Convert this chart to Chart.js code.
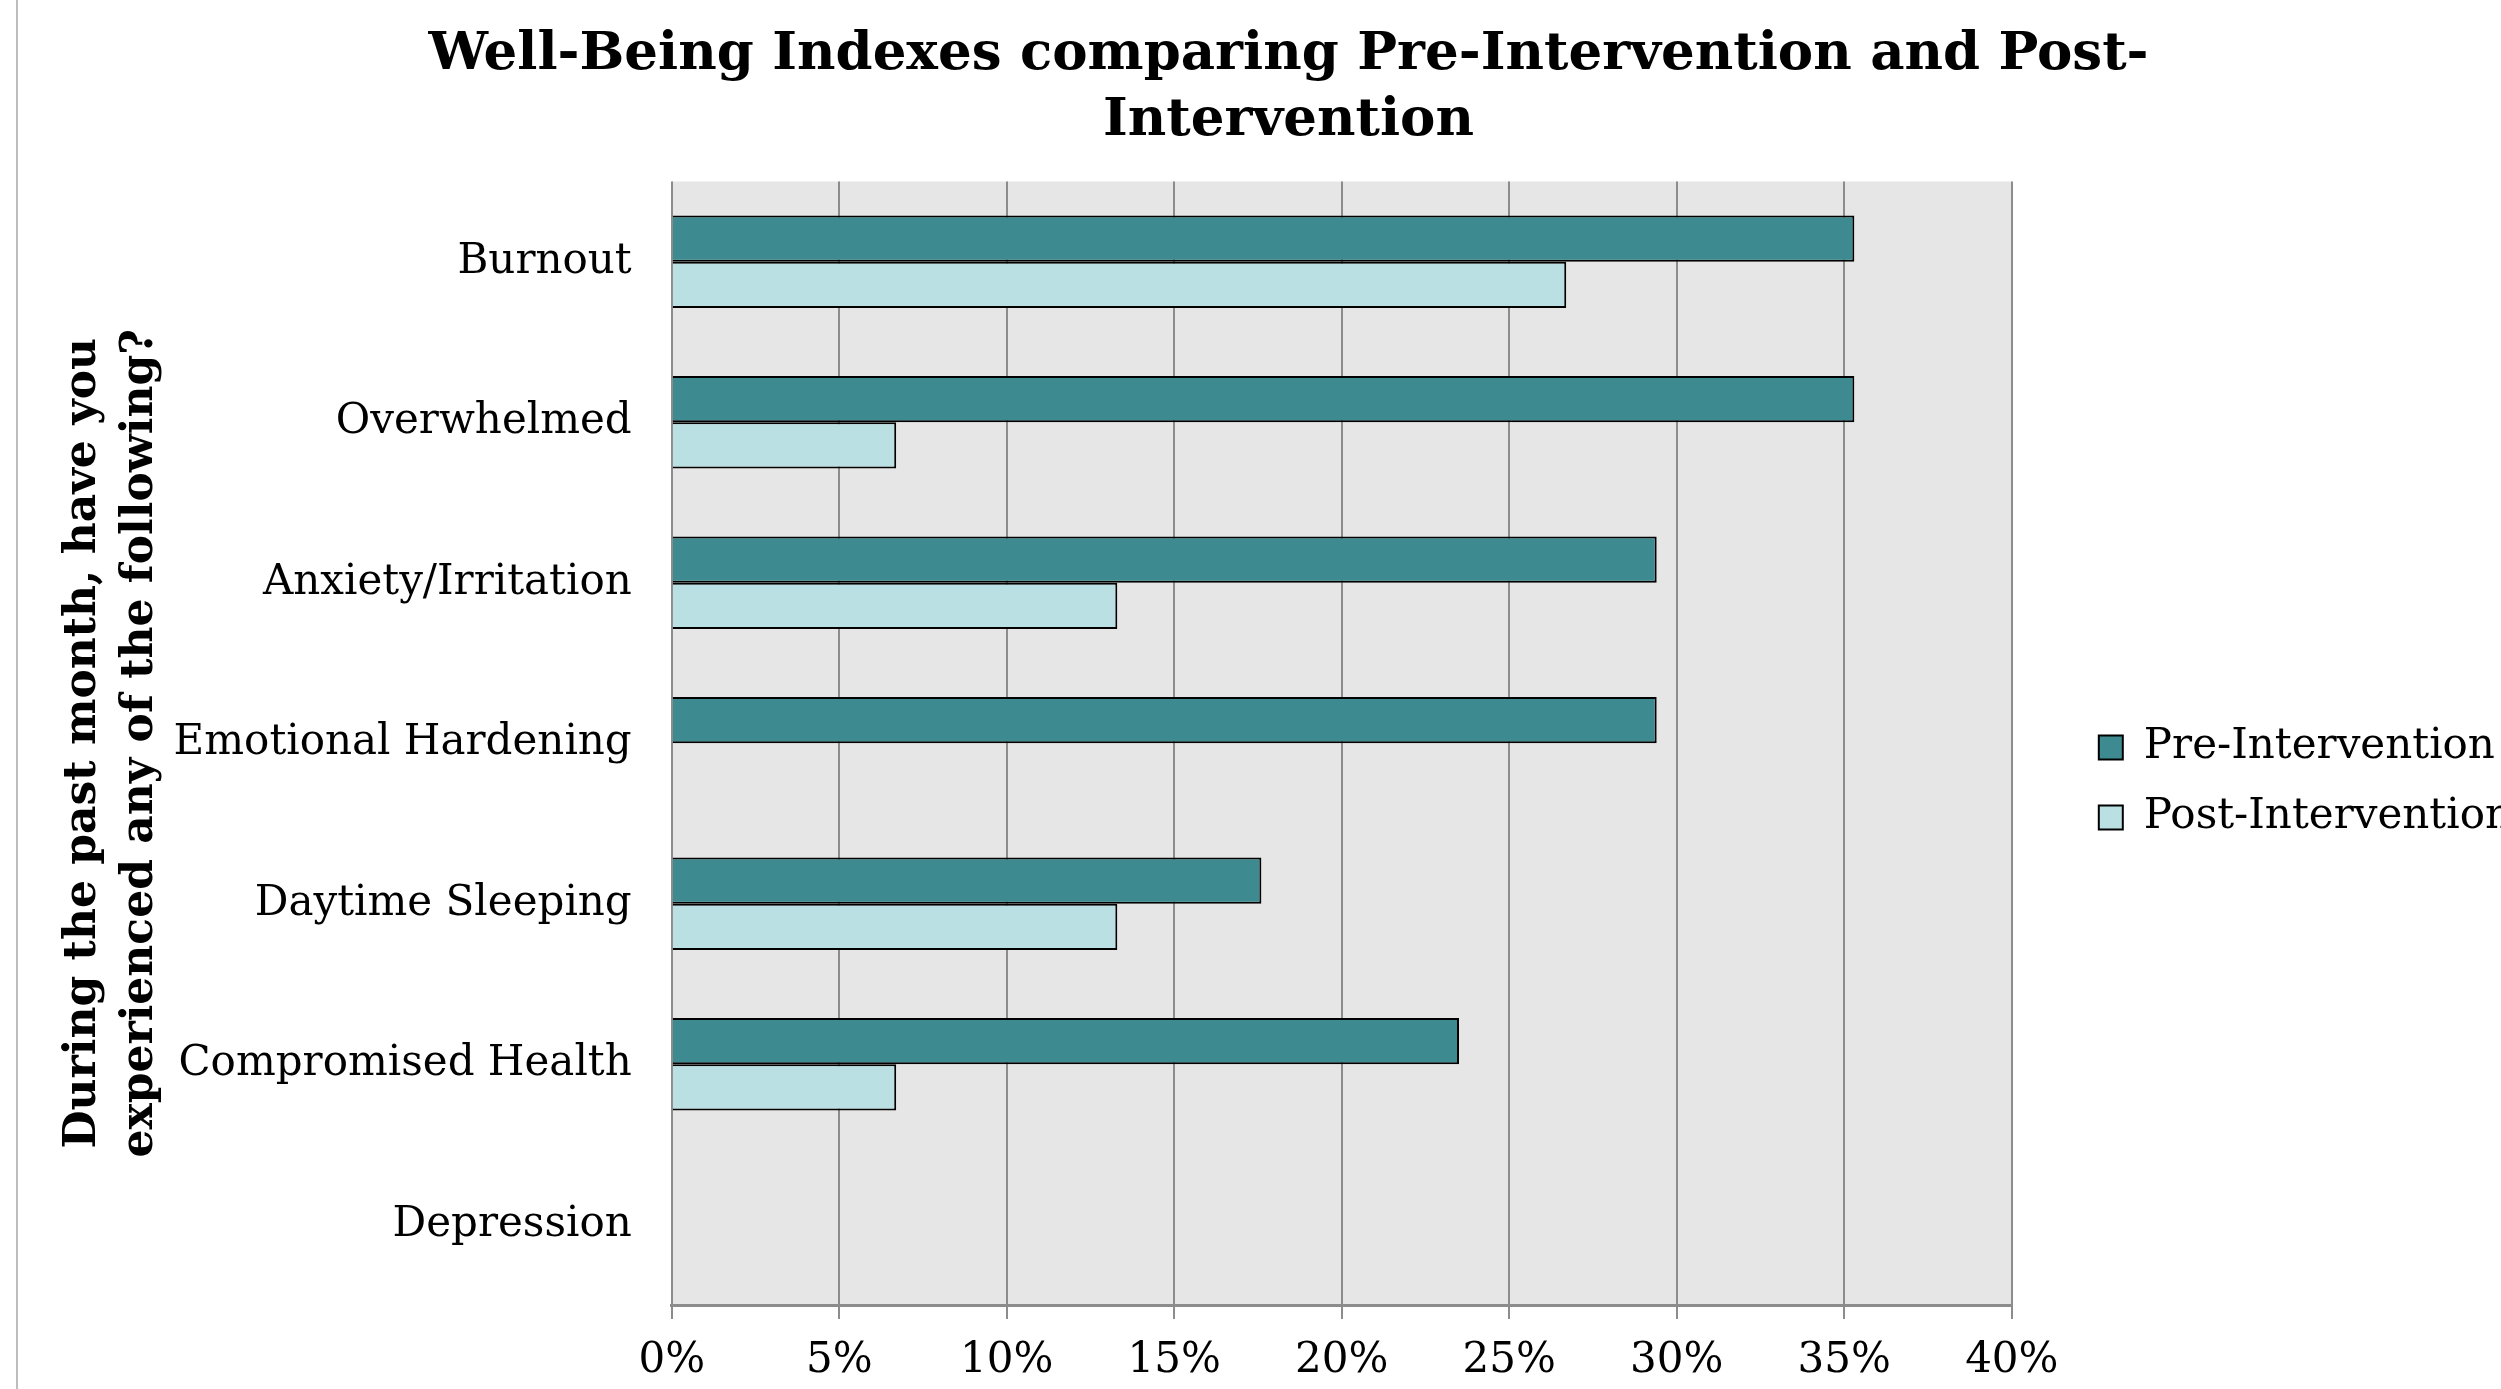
<!DOCTYPE html>
<html>
<head>
<meta charset="utf-8">
<script src="https://cdn.jsdelivr.net/npm/chart.js@4/dist/chart.umd.min.js"></script>
<style>
  html, body { margin: 0; padding: 0; background: #ffffff; overflow: hidden; width: 2501px; height: 1389px; }
  #frame { position: absolute; left: 16px; top: 0; width: 2532px; height: 1389px; border-left: 2px solid #bdbdbd; }
  canvas { display: block; }
</style>
</head>
<body>
<div id="frame"><canvas id="c" width="2532" height="1389"></canvas></div>
<script>
const categories = ["Burnout", "Overwhelmed", "Anxiety/Irritation", "Emotional Hardening", "Daytime Sleeping", "Compromised Health", "Depression"];
const preIntervention = [35.3, 35.3, 29.4, 29.4, 17.6, 23.5, 0];
const postIntervention = [26.7, 6.7, 13.3, 0, 13.3, 6.7, 0];
const seriesNames = ["Pre-Intervention", "Post-Intervention"];
const titleLines = ["Well-Being Indexes comparing Pre-Intervention and Post-", "Intervention"];
const yTitleLines = ["During the past month, have you", "experienced any of the following?"];

const FONT = "'DejaVu Serif', 'Liberation Serif', serif";
const LEGEND_GAP = 59;
const LEGEND_DY = 70;

const plotBg = {
  id: 'plotBg',
  beforeDraw(chart) {
    const {ctx, chartArea: a} = chart;
    ctx.save();
    ctx.fillStyle = '#e6e6e6';
    ctx.fillRect(a.left, a.top, a.right - a.left, a.bottom - a.top);
    ctx.restore();
  }
};

const legendShift = {
  id: 'legendShift',
  afterInit(chart) {
    const l = chart.legend;
    if (!l) return;
    const f = l.fit;
    l.fit = function () { f.call(this); this.width += LEGEND_GAP; };
  },
  afterLayout(chart) {
    const l = chart.legend;
    if (!l) return;
    l.left += LEGEND_GAP;
    l.top += LEGEND_DY;
    l.bottom += LEGEND_DY;
  }
};

new Chart(document.getElementById('c'), {
  type: 'bar',
  data: {
    labels: categories,
    datasets: [
      { label: seriesNames[0], data: preIntervention, backgroundColor: '#3d8b90', borderColor: '#000000', borderWidth: 2, borderSkipped: 'start' },
      { label: seriesNames[1], data: postIntervention, backgroundColor: '#bae0e3', borderColor: '#000000', borderWidth: 2, borderSkipped: 'start' }
    ]
  },
  options: {
    responsive: false,
    animation: false,
    indexAxis: 'y',
    datasets: { bar: { barPercentage: 1.0, categoryPercentage: 0.575 } },
    layout: { padding: { left: 37, right: 28, top: 22, bottom: -14 } },
    plugins: {
      title: {
        display: true,
        text: titleLines,
        color: '#000000',
        font: { family: FONT, size: 53, weight: 'bold', lineHeight: 1.25 },
        padding: { top: 0, bottom: 27 }
      },
      legend: {
        position: 'right',
        labels: {
          color: '#000000',
          font: { family: FONT, size: 42 },
          boxWidth: 24, boxHeight: 24, padding: 28,
          generateLabels(chart) {
            return chart.data.datasets.map((ds, i) => ({
              text: ds.label, fillStyle: ds.backgroundColor, strokeStyle: '#000000',
              lineWidth: 2, hidden: false, datasetIndex: i, fontColor: '#000000'
            }));
          }
        }
      },
      tooltip: { enabled: false }
    },
    scales: {
      x: {
        min: 0, max: 40,
        ticks: { stepSize: 5, color: '#000000', font: { family: FONT, size: 42, lineHeight: 1.0 }, padding: 21, callback: v => v + '%' },
        grid: { color: '#8c8c8c', lineWidth: 2, tickLength: 14, drawTicks: true },
        border: { color: '#8c8c8c', width: 3 }
      },
      y: {
        ticks: { color: '#000000', font: { family: FONT, size: 42 }, padding: 40 },
        grid: { display: false, drawTicks: false, tickLength: 0 },
        border: { display: false },
        title: {
          display: true,
          text: yTitleLines,
          color: '#000000',
          font: { family: FONT, size: 44, weight: 'bold', lineHeight: 1.3 },
          padding: { top: 0, bottom: 0 }
        }
      }
    }
  },
  plugins: [plotBg, legendShift]
});
</script>
</body>
</html>
